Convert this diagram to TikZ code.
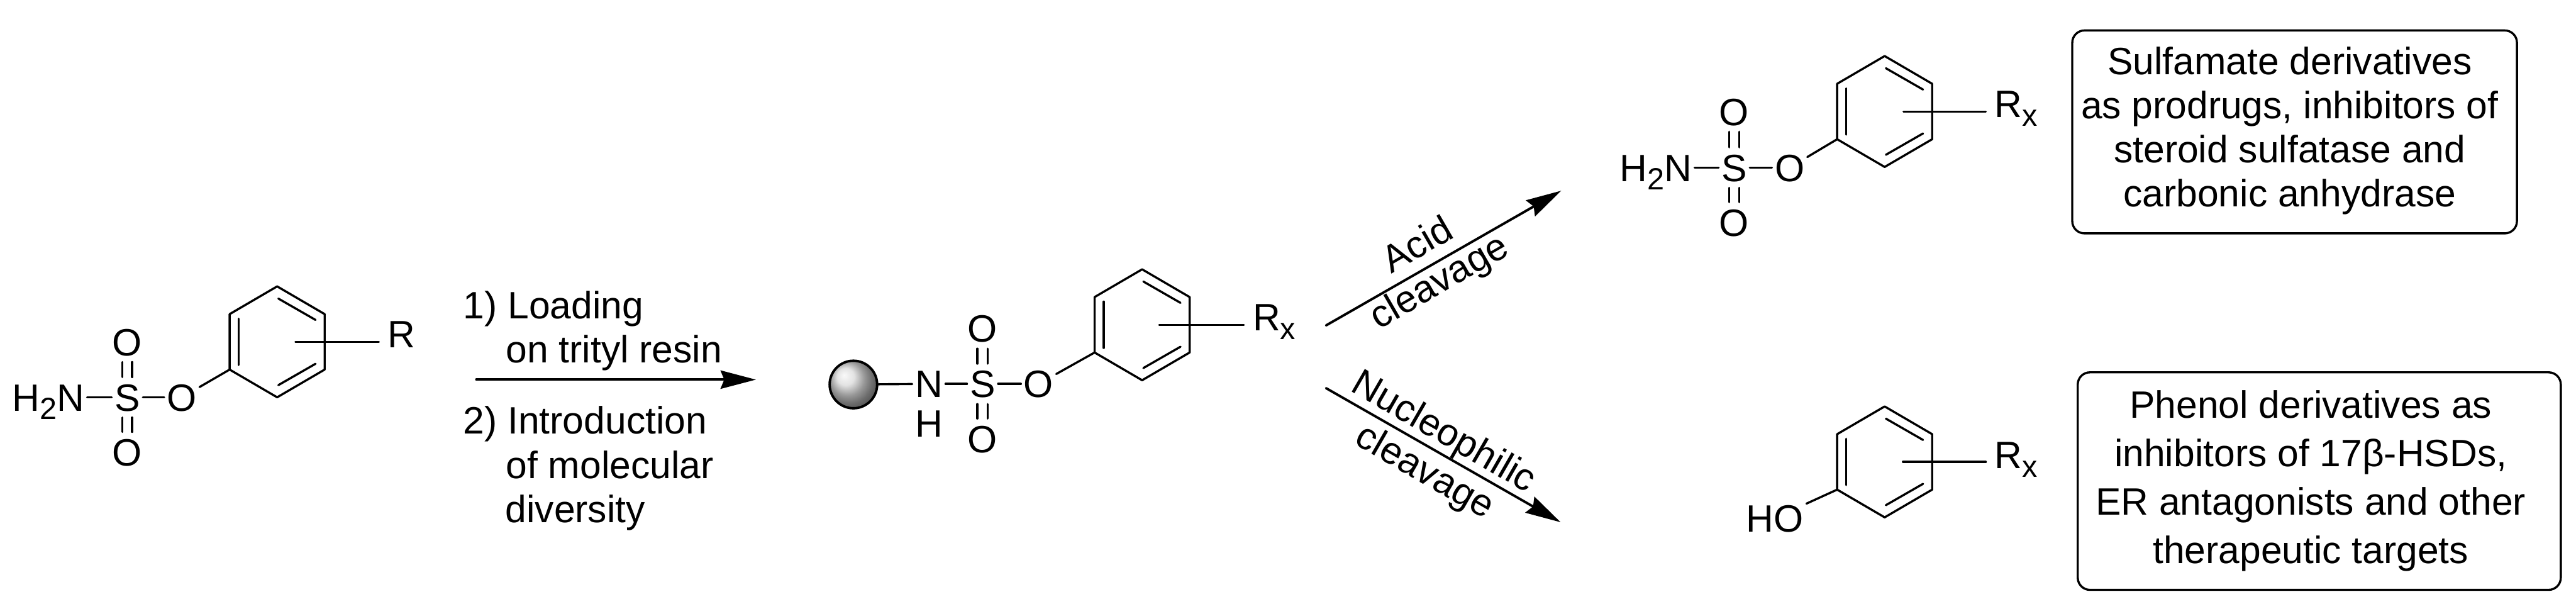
\documentclass[tikz,border=0pt]{standalone}
\usepackage{fontspec}
\setmainfont{Liberation Sans}
\usetikzlibrary{arrows.meta}
\newcommand{\lowered}[1]{\raisebox{-.14cm}{\fontsize{14.3}{14.3}\selectfont #1}}
\tikzset{
  bond/.style={line width=.035cm, line cap=round},
  dbl/.style={bond, shorten >=.06cm, shorten <=.06cm},
  reaction/.style={bond, line width=.04cm, -{Stealth[length=.58cm, width=.3cm, inset=.06cm]}},
  chem/.style={font=\fontsize{17.8}{20}\selectfont},
  atom/.style={chem, inner sep=.04cm, text height=.45cm, text depth=0pt},
  subst/.style={chem, inner sep=.14cm, anchor=base west},
  txt/.style={chem, inner sep=0pt, anchor=base west},
  slanted/.style={chem, inner sep=0pt, anchor=base},
  note/.style={draw, line width=.035cm, rounded corners=.2cm, inner sep=0pt}
}
\begin{document}
\begin{tikzpicture}
\useasboundingbox (0,0) rectangle (42.29,9.91);

\foreach \n/\x/\y in {a/4.55/4.30, b/18.75/4.58, c/30.94/8.08, d/30.94/2.33} {
  \begin{scope}[shift={(\x,\y)}]
    \coordinate (\n-top) at (0,.91);
    \coordinate (\n-ur) at (.78,.455);
    \coordinate (\n-lr) at (.78,-.455);
    \coordinate (\n-bot) at (0,-.91);
    \coordinate (\n-ll) at (-.78,-.455);
    \coordinate (\n-ul) at (-.78,.455);
    \draw[bond, line join=round] (\n-top) -- (\n-ur) -- (\n-lr) -- (\n-bot) -- (\n-ll) -- (\n-ul) -- cycle;
    \draw[bond] (.02,.71) -- (.63,.36);
    \draw[bond] (.02,-.71) -- (.63,-.36);
    \draw[bond] (-.63,.38) -- (-.63,-.38);
  \end{scope}
}

\node[atom, anchor=east] (nh2-a) at (1.43,3.39) {H\lowered{2}N};
\node[atom] (s-a) at (2.09,3.39) {S};
\node[atom] (o-a) at (2.985,3.39) {O};
\node[atom] (otop-a) at (2.09,4.30) {O};
\node[atom] (obot-a) at (2.09,2.49) {O};
\draw[bond] (nh2-a) -- (s-a);
\draw[bond] (s-a) -- (o-a);
\draw[bond] (o-a) -- (a-ll);
\draw[dbl] ([xshift=-.08cm]s-a.north) -- ([xshift=-.08cm]otop-a.south);
\draw[dbl] ([xshift=.08cm]s-a.north) -- ([xshift=.08cm]otop-a.south);
\draw[dbl] ([xshift=-.08cm]s-a.south) -- ([xshift=-.08cm]obot-a.north);
\draw[dbl] ([xshift=.08cm]s-a.south) -- ([xshift=.08cm]obot-a.north);
\coordinate (sub-a) at (4.85,4.30);
\node[subst] (r-a) at (6.22,4.21) {R};
\draw[bond] (sub-a) -- (r-a.west |- sub-a);

\coordinate (load-start) at (7.82,3.68);
\coordinate (load-end) at (12.41,3.68);
\draw[reaction] (load-start) -- (load-end);
\node[txt] (step-one) at (7.60,4.68) {1) Loading};
\node[txt] (step-one-b) at (8.30,3.96) {on trityl resin};
\node[txt] (step-two) at (7.60,2.79) {2) Introduction};
\node[txt] (step-two-b) at (8.30,2.06) {of molecular};
\node[txt] (step-two-c) at (8.29,1.34) {diversity};

\node[circle, draw, line width=.04cm, minimum size=.78cm, inner sep=0pt, shading=ball, ball color=gray!30] (resin) at (14.01,3.60) {};
\node[atom] (n-b) at (15.25,3.61) {N};
\node[atom] (h-b) at (15.25,2.96) {H};
\node[atom] (s-b) at (16.13,3.61) {S};
\node[atom] (o-b) at (17.05,3.61) {O};
\node[atom] (otop-b) at (16.13,4.52) {O};
\node[atom] (obot-b) at (16.13,2.71) {O};
\draw[bond] (resin) -- (n-b);
\draw[bond] (n-b) -- (s-b);
\draw[bond] (s-b) -- (o-b);
\draw[bond] (o-b) -- (b-ll);
\draw[dbl] ([xshift=-.085cm]s-b.north) -- ([xshift=-.085cm]otop-b.south);
\draw[dbl] ([xshift=.085cm]s-b.north) -- ([xshift=.085cm]otop-b.south);
\draw[dbl] ([xshift=-.085cm]s-b.south) -- ([xshift=-.085cm]obot-b.north);
\draw[dbl] ([xshift=.085cm]s-b.south) -- ([xshift=.085cm]obot-b.north);
\coordinate (sub-b) at (19.03,4.58);
\node[subst] (r-b) at (20.42,4.48) {R\lowered{x}};
\draw[bond] (sub-b) -- (r-b.west |- sub-b);

\coordinate (acid-start) at (21.77,4.57);
\coordinate (acid-end) at (25.63,6.78);
\draw[reaction] (acid-start) -- (acid-end);
\node[slanted, rotate=30] (acid-up) at (23.37,5.72) {Acid};
\node[slanted, rotate=30] (acid-low) at (23.72,5.12) {cleavage};
\coordinate (nuc-start) at (21.77,3.54);
\coordinate (nuc-end) at (25.62,1.34);
\draw[reaction] (nuc-start) -- (nuc-end);
\node[slanted, rotate=-30] (nuc-up) at (23.61,2.66) {Nucleophilic};
\node[slanted, rotate=-30] (nuc-low) at (23.30,2.01) {cleavage};

\node[atom, anchor=east] (nh2-c) at (27.82,7.16) {H\lowered{2}N};
\node[atom] (s-c) at (28.47,7.16) {S};
\node[atom] (o-c) at (29.38,7.16) {O};
\node[atom] (otop-c) at (28.47,8.08) {O};
\node[atom] (obot-c) at (28.47,6.26) {O};
\draw[bond] (nh2-c) -- (s-c);
\draw[bond] (s-c) -- (o-c);
\draw[bond] (o-c) -- (c-ll);
\draw[dbl] ([xshift=-.08cm]s-c.north) -- ([xshift=-.08cm]otop-c.south);
\draw[dbl] ([xshift=.08cm]s-c.north) -- ([xshift=.08cm]otop-c.south);
\draw[dbl] ([xshift=-.08cm]s-c.south) -- ([xshift=-.08cm]obot-c.north);
\draw[dbl] ([xshift=.08cm]s-c.south) -- ([xshift=.08cm]obot-c.north);
\coordinate (sub-c) at (31.25,8.08);
\node[subst] (r-c) at (32.60,7.98) {R\lowered{x}};
\draw[bond] (sub-c) -- (r-c.west |- sub-c);

\node[atom] (ho-d) at (29.14,1.41) {HO};
\draw[bond] (ho-d) -- (d-ll);
\coordinate (sub-d) at (31.24,2.33);
\node[subst] (r-d) at (32.60,2.22) {R\lowered{x}};
\draw[bond] (sub-d) -- (r-d.west |- sub-d);

\node[note, minimum width=7.30cm, minimum height=3.33cm, font=\fontsize{17.8}{20.5}\selectfont] (sulfamate-box) at (37.67,7.745) {\begin{tabular}{@{}c@{}}Sulfamate derivatives\\as prodrugs, inhibitors of\\steroid sulfatase and\\carbonic anhydrase\end{tabular}\hspace*{.16cm}};
\node[note, minimum width=7.93cm, minimum height=3.57cm, font=\fontsize{17.8}{22.6}\selectfont] (phenol-box) at (38.075,2.015) {\begin{tabular}{@{}c@{}}Phenol derivatives as\\inhibitors of 17β-HSDs,\\ER antagonists and other\\therapeutic targets\end{tabular}\hspace*{.28cm}};
\end{tikzpicture}
\end{document}
